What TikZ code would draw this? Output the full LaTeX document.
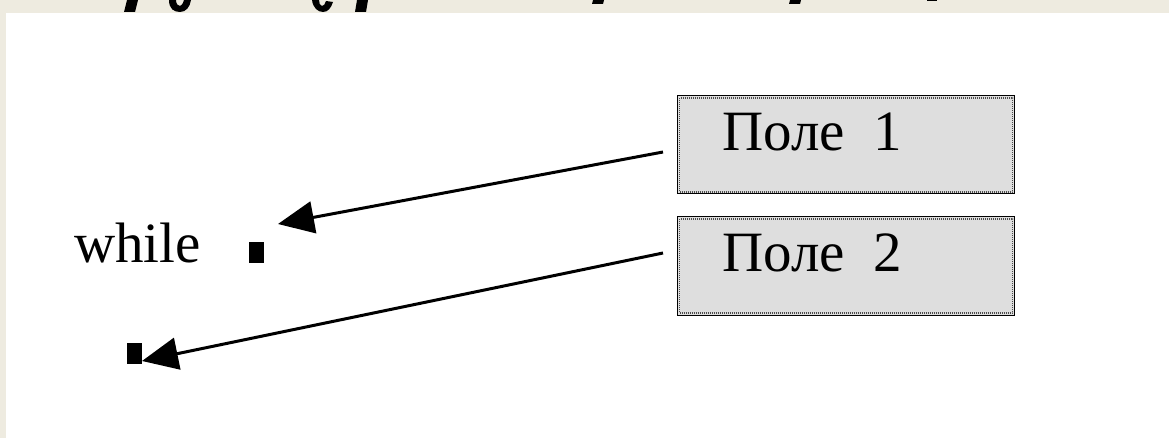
\documentclass[tikz,border=0pt]{standalone}
\usepackage{fontspec}
\setmainfont{Liberation Serif}
\usetikzlibrary{arrows.meta}
\definecolor{frame}{RGB}{238,235,224}
\definecolor{fieldgray}{RGB}{222,222,222}
\tikzset{
  field/.style={draw=black, line width=1pt, fill=fieldgray, rectangle,
    minimum width=337pt, minimum height=98pt, inner sep=0pt},
  fieldtext/.style={anchor=base west, inner sep=0pt,
    font=\fontsize{57}{60}\selectfont},
  mark box/.style={fill=black, rectangle, inner sep=0pt,
    minimum width=15pt, minimum height=21pt},
  pointer/.style={line width=3pt, -{Triangle[length=36pt,width=32pt]}},
}
\begin{document}
\begin{tikzpicture}[x=1pt,y=-1pt]
\useasboundingbox (0,0) rectangle (1169,438);
% page background and slide area
\fill[frame] (0,0) rectangle (1169,438);
\fill[white] (6,13) rectangle (1169,438);
% lower edges of the heading glyphs above the slide area
\fill[black] (127,0) -- (138,0) -- (135,12) -- (124,12) -- cycle;
\fill[black] (169,0) .. controls (169,9) and (174,12) .. (180,12)
   .. controls (186,12) and (190,7) .. (191,0) -- (184,0)
   .. controls (183,4) and (181,6) .. (180,6)
   .. controls (178,6) and (176,4) .. (176,0) -- cycle;
\fill[black] (312,0) .. controls (313,8) and (318,12) .. (323,12)
   .. controls (328,12) and (331,8) .. (333,2) -- (326,1)
   .. controls (325,4) and (324,6) .. (322,6)
   .. controls (320,6) and (319,3) .. (319,0) -- cycle;
\fill[black] (357,0) -- (368,0) -- (366,12) -- (355,12) -- cycle;
\fill[black] (593,0) -- (604,0) -- (603,4) -- (592,4) -- cycle;
\fill[black] (790,0) -- (801,0) -- (800,4) -- (789,4) -- cycle;
\fill[black] (927,0) -- (937,0) -- (937,1.5) -- (927,1.5) -- cycle;
% the two fields
\node[field] (f1) at (846,145) {};
\node[field] (f2) at (846,266) {};
\foreach \f in {f1,f2}{
  \draw[black!70, line width=1.3pt, dash pattern=on 1pt off 1pt]
    ([shift={(2.5,2.5)}]\f.north west) rectangle ([shift={(-2.5,-2.5)}]\f.south east);
}
\node[fieldtext] (t1) at (722,151) {Поле\ \ 1};
\node[fieldtext] (t2) at (722,272) {Поле\ \ 2};
% statement text and its two marks
\node[fieldtext, anchor=base west] (kw) at (74,262) {while};
\node[mark box] (m1) at (256.5,252.5) {};
\node[mark box] (m2) at (134.5,353) {};
% pointers from the fields
\coordinate (s1) at (663,152);
\coordinate (e1) at (278,224);
\coordinate (s2) at (663,253);
\coordinate (e2) at (142,361);
\draw[pointer] (s1) -- (e1);
\draw[pointer] (s2) -- (e2);
\end{tikzpicture}
\end{document}
